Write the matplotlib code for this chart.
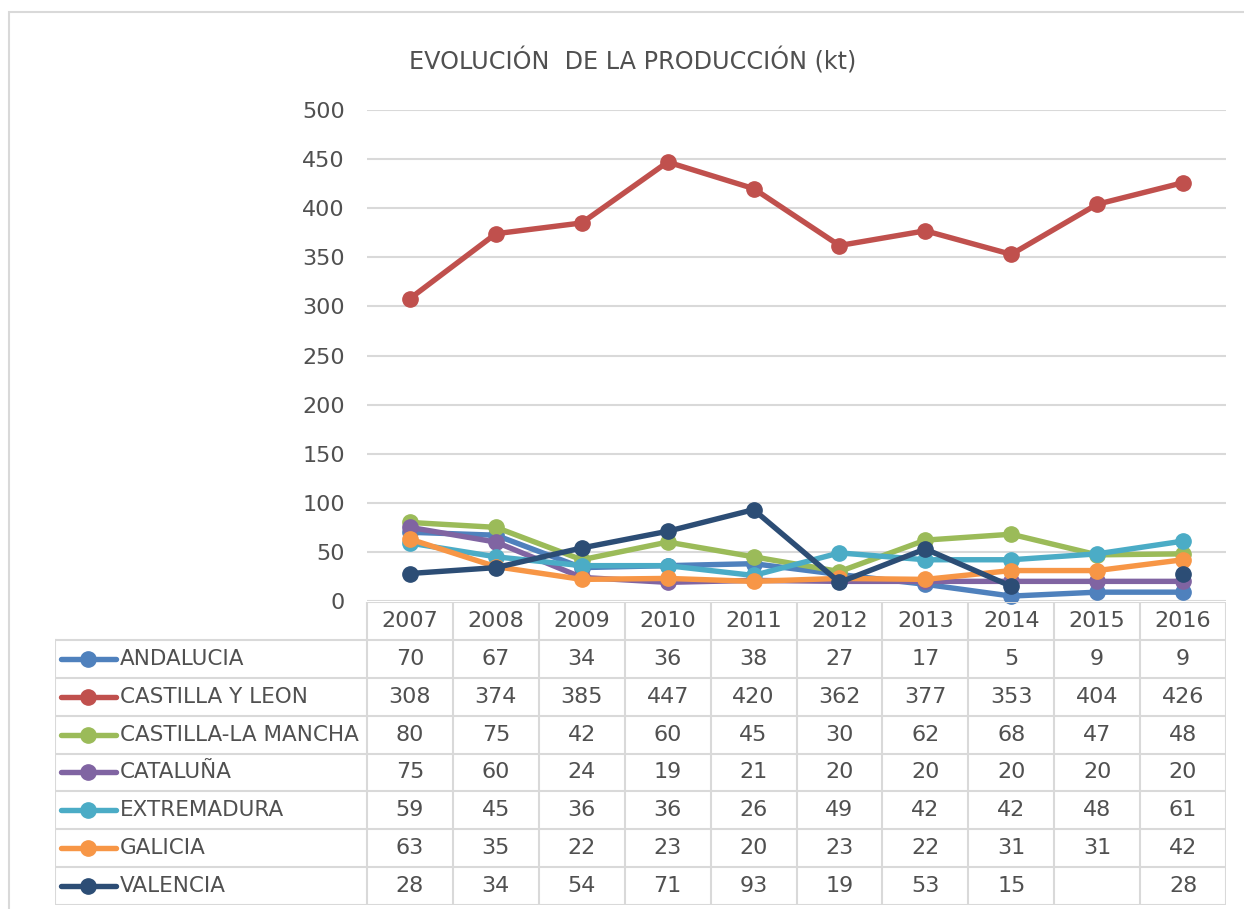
"""Evolucion de la produccion (kt) por comunidad, grafico de lineas con tabla de datos."""
import numpy as np
import matplotlib
matplotlib.use('Agg')
import matplotlib.pyplot as plt
from matplotlib.patches import Rectangle
from matplotlib.lines import Line2D

years = ['2007', '2008', '2009', '2010', '2011', '2012', '2013', '2014', '2015', '2016']
regions = ['ANDALUCIA', 'CASTILLA Y LEON', 'CASTILLA-LA MANCHA', 'CATALUÑA',
           'EXTREMADURA', 'GALICIA', 'VALENCIA']

andalucia = [70, 67, 34, 36, 38, 27, 17, 5, 9, 9]
castilla_leon = [308, 374, 385, 447, 420, 362, 377, 353, 404, 426]
castilla_mancha = [80, 75, 42, 60, 45, 30, 62, 68, 47, 48]
cataluna = [75, 60, 24, 19, 21, 20, 20, 20, 20, 20]
extremadura = [59, 45, 36, 36, 26, 49, 42, 42, 48, 61]
galicia = [63, 35, 22, 23, 20, 23, 22, 31, 31, 42]
valencia = [28, 34, 54, 71, 93, 19, 53, 15, None, 28]

series = [andalucia, castilla_leon, castilla_mancha, cataluna,
          extremadura, galicia, valencia]
colors = ['#4F81BD', '#C0504D', '#9BBB59', '#8064A2', '#4BACC6', '#F79646', '#2C4D75']

TXT = '#505050'
GRID = '#D9D9D9'
FS = 15.5
plt.rcParams['font.family'] = ['DejaVu Sans']

W, H = 1244, 909
fig = plt.figure(figsize=(W / 100, H / 100), dpi=100)

# outer chart border
fig.patches.append(Rectangle((9 / W, -0.02), 1.1, 1 - 12 / H + 0.02, transform=fig.transFigure,
                             facecolor='none', edgecolor=GRID, lw=1.5))

# plot area
x0, x1, y0, y1 = 367, 1226, 601, 110
ax = fig.add_axes([x0 / W, 1 - y0 / H, (x1 - x0) / W, (y0 - y1) / H])
x = np.arange(len(years))
for name, vals, c in zip(regions, series, colors):
    v = np.array([np.nan if a is None else a for a in vals], dtype=float)
    ax.plot(x, v, '-o', color=c, lw=3.9, ms=11, solid_capstyle='round', clip_on=False)
ax.set_xlim(-0.5, len(years) - 0.5)
ax.set_ylim(0, 500)
ax.set_yticks(range(0, 501, 50))
ax.set_xticks([])
ax.grid(axis='y', color=GRID, lw=1.5)
ax.set_axisbelow(True)
for s in ax.spines.values():
    s.set_visible(False)
ax.tick_params(axis='y', length=0, pad=16, labelsize=16, labelcolor=TXT)

fig.text(633 / W, 1 - 61 / H, 'EVOLUCIÓN  DE LA PRODUCCIÓN (kt)', ha='center', va='center',
         fontsize=17.2, color=TXT)

# data table
tl, tr, tt, tb = 54.7, 1226, 602, 905
col_w = (x1 - x0) / len(years)
lab_w = (x0 - tl) / col_w
tab = fig.add_axes([tl / W, 1 - tb / H, (tr - tl) / W, (tb - tt) / H])
nrows = len(regions) + 1
tab.set_xlim(-0.5 - lab_w, len(years) - 0.5)
tab.set_ylim(nrows, 0)
tab.axis('off')
lkw = dict(color=GRID, lw=1.5, solid_capstyle='projecting')
tab.plot([-0.5, len(years) - 0.5], [0, 0], **lkw)
for r in range(1, nrows + 1):
    tab.plot([-0.5 - lab_w, len(years) - 0.5], [r, r], **lkw)
for k in range(len(years) + 1):
    tab.plot([k - 0.5, k - 0.5], [0, nrows], **lkw)
tab.plot([-0.5 - lab_w, -0.5 - lab_w], [1, nrows], **lkw)

for j, yr in enumerate(years):
    tab.text(j, 0.5, yr, ha='center', va='center', fontsize=16, color=TXT)
for i, (name, vals, c) in enumerate(zip(regions, series, colors)):
    yy = i + 1.5
    lx = -0.5 - lab_w
    tab.add_line(Line2D([lx + 0.07, lx + 0.71], [yy, yy], color=c, lw=3.9, solid_capstyle='round'))
    tab.plot([lx + 0.39], [yy], 'o', color=c, ms=11)
    tab.text(lx + 0.76, yy, name, ha='left', va='center', fontsize=FS, color=TXT)
    for j, v in enumerate(vals):
        if v is not None:
            tab.text(j, yy, str(v), ha='center', va='center', fontsize=16, color=TXT)

fig.savefig('out.png', dpi=100)
